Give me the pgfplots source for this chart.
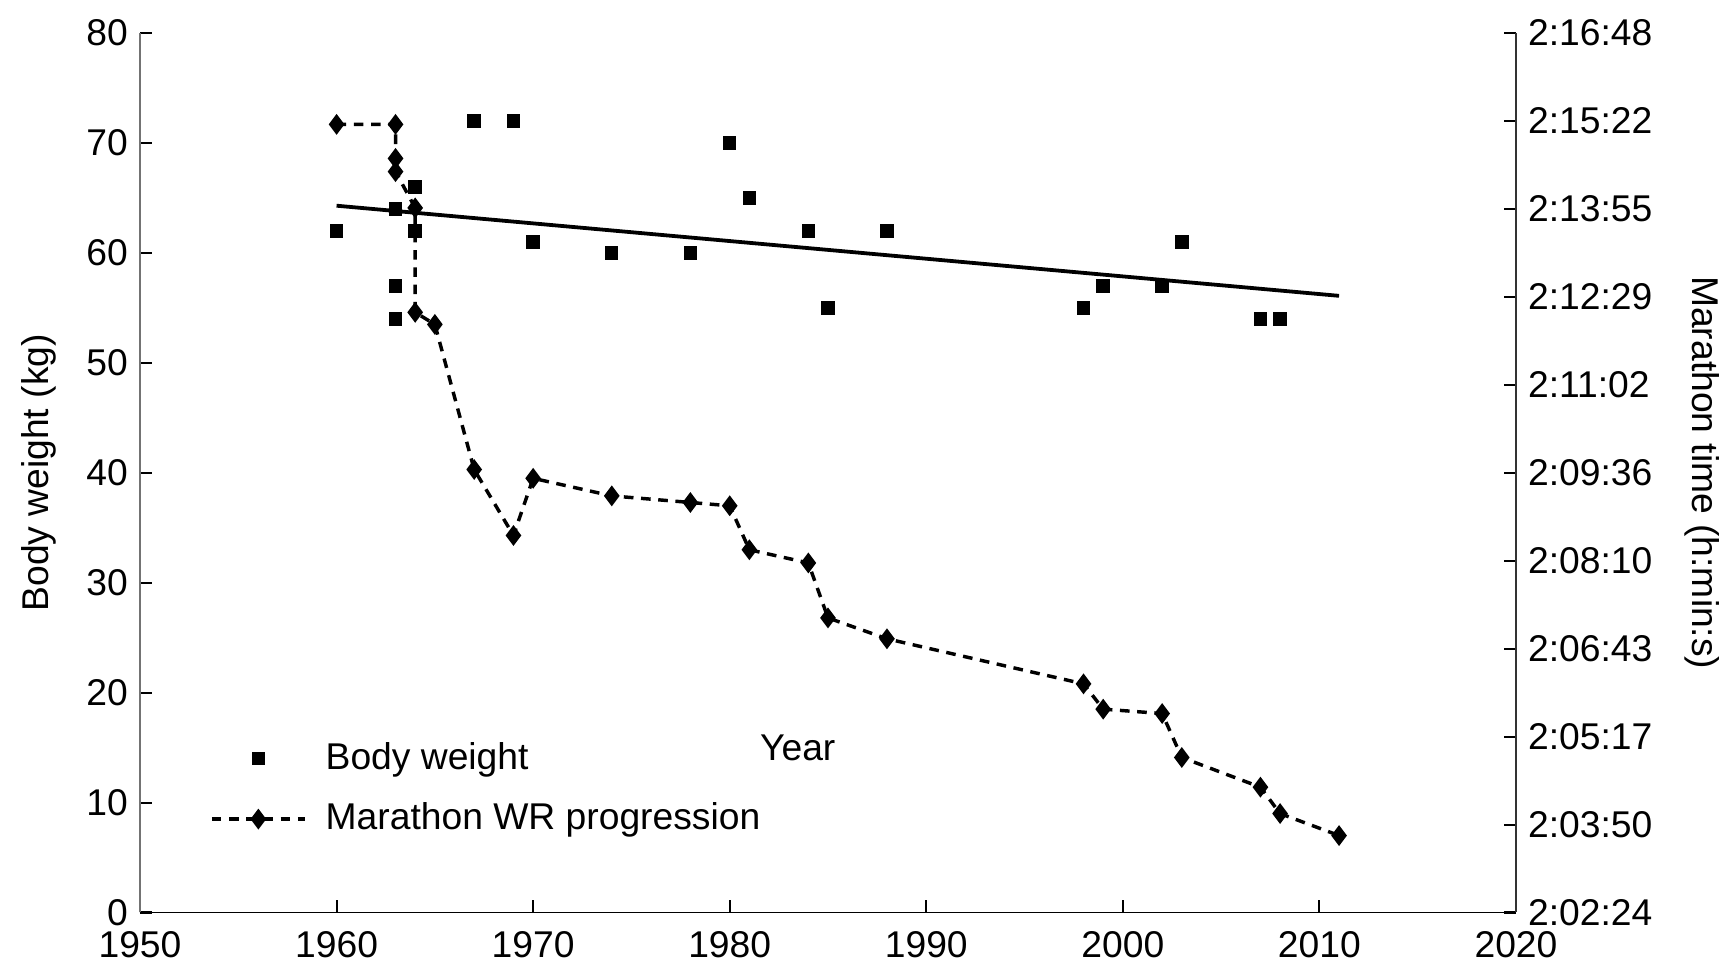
\documentclass[border=0pt]{standalone}
\usepackage{fontspec}
\setmainfont{Liberation Sans}
\usepackage{pgfplots}
\pgfplotsset{compat=1.18}
\begin{document}
\begin{tikzpicture}[font=\fontsize{10.8}{13}\selectfont]
\useasboundingbox (-40.6pt,-14.2pt) rectangle (459.9pt,264.6pt);
\begin{axis}[
  name=main, scale only axis, width=399pt, height=255pt,
  xmin=1950, xmax=2020, ymin=0, ymax=80,
  axis x line=bottom, axis y line=left,
  axis line style={-},
  y axis line style={black!55},
  xtick={1950,1960,...,2020}, ytick={0,10,...,80},
  tick align=inside, major tick length=3.5pt,
  tick style={black, line width=0.6pt},
  /pgf/number format/assume math mode=true,
  x tick label style={/pgf/number format/1000 sep={}, yshift=-2pt},
  xlabel={Year},
  xlabel style={at={(axis description cs:0.478,0.1875)}, anchor=center},
  legend style={at={(axis description cs:0.0504,0.1406)}, anchor=west,
    draw=none, fill=none, inner sep=0pt, row sep=4.2pt,
    /tikz/every odd column/.append style={column sep=3.5pt}},
  legend cell align=left,
  legend image code/.code={\draw[mark repeat=2,mark phase=2,#1] plot coordinates {(0cm,0cm) (0.475cm,0cm) (0.95cm,0cm)};},
  clip=false,
]
\addplot[only marks, mark=square*, mark size=1.75pt, black]
  table {
x y
1960 62
1963 54
1963 57
1963 64
1964 66
1964 62
1967 72
1969 72
1970 61
1974 60
1978 60
1980 70
1981 65
1984 62
1985 55
1988 62
1998 55
1999 57
2002 57
2003 61
2007 54
2008 54
};
\addlegendentry{Body weight}
\addplot[black, line width=1pt, dash pattern=on 2.8pt off 2.2pt,
  mark=diamond*, mark size=2.2pt, mark options={solid}]
  table {
x y
1960 71.7
1963 71.7
1963 68.6
1963 67.4
1964 64.1
1964 54.6
1965 53.5
1967 40.3
1969 34.3
1970 39.5
1974 37.9
1978 37.3
1980 37.0
1981 33.0
1984 31.8
1985 26.8
1988 24.9
1998 20.8
1999 18.5
2002 18.1
2003 14.1
2007 11.4
2008 9.0
2011 7.0
};
\addlegendentry{Marathon WR progression}
\addplot[black, line width=1.1pt, forget plot] coordinates {(1960,64.3) (2011,56.1)};
\end{axis}
\begin{axis}[
  scale only axis, width=399pt, height=255pt,
  xmin=1950, xmax=2020, ymin=0, ymax=80,
  axis x line=none, axis y line*=right,
  axis line style={-, black!80},
  ytick={0,8,...,80},
  yticklabels={2:02:24,2:03:50,2:05:17,2:06:43,2:08:10,2:09:36,2:11:02,2:12:29,2:13:55,2:15:22,2:16:48},
  tick align=inside, major tick length=3.5pt,
  tick style={black, line width=0.6pt},
]
\addplot[draw=none] coordinates {(1950,0)};
\end{axis}
\node[rotate=90] at (-29.4pt,127.5pt) {Body weight (kg)};
\node[rotate=-90] at (453pt,127.5pt) {Marathon time (h:min:s)};
\end{tikzpicture}
\end{document}
